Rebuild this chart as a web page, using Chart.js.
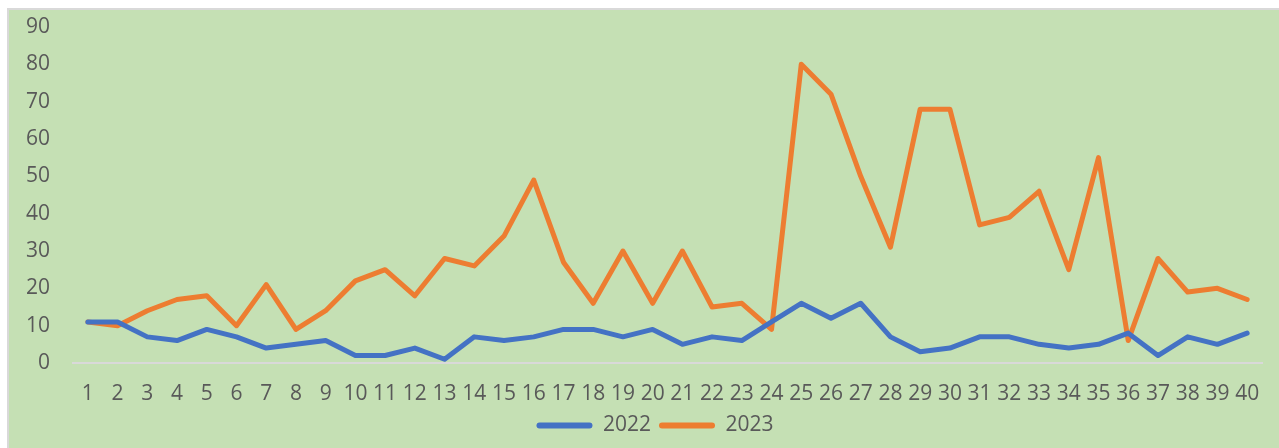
<!DOCTYPE html>
<html>
<head>
<meta charset="utf-8">
<script src="https://cdn.jsdelivr.net/npm/chart.js@4/dist/chart.umd.min.js"></script>
<style>
html,body{margin:0;padding:0;background:#fff;}
canvas{display:block;}
</style>
</head>
<body>
<canvas id="c" width="1279" height="448"></canvas>
<script>
const categories = ['1','2','3','4','5','6','7','8','9','10','11','12','13','14','15','16','17','18','19','20','21','22','23','24','25','26','27','28','29','30','31','32','33','34','35','36','37','38','39','40'];
const values2022 = [11,11,7,6,9,7,4,5,6,2,2,4,1,7,6,7,9,9,7,9,5,7,6,11,16,12,16,7,3,4,7,7,5,4,5,8,2,7,5,8];
const values2023 = [11,10,14,17,18,10,21,9,14,22,25,18,28,26,34,49,27,16,30,16,30,15,16,9,80,72,50,31,68,68,37,39,46,25,55,6,28,19,20,17];
const yTicks = [0,10,20,30,40,50,60,70,80,90];
const seriesNames = ['2022','2023'];

const FONT = '"Open Sans", sans-serif';
const TXT = '#595959';

const bgPlugin = {
  id: 'bg',
  beforeDraw(chart) {
    const ctx = chart.ctx;
    ctx.save();
    ctx.fillStyle = '#ffffff';
    ctx.fillRect(0, 0, chart.width, chart.height);
    ctx.fillStyle = '#d9d9d9';
    ctx.fillRect(7, 8, chart.width - 7, chart.height - 8);
    ctx.fillStyle = '#C5E0B4';
    ctx.fillRect(9, 10, chart.width - 9, chart.height - 10);
    ctx.restore();
  }
};

const legendShift = {
  id: 'legendShift',
  afterLayout(chart) {
    if (chart.legend) {
      chart.legend.left += 24;
      chart.legend.right += 24;
    }
  }
};

new Chart(document.getElementById('c'), {
  type: 'line',
  data: {
    labels: categories,
    datasets: [
      {label: seriesNames[0], data: values2022, borderColor: '#4472C4', backgroundColor: '#4472C4', borderWidth: 5, pointRadius: 0, tension: 0, borderJoinStyle: 'round', borderCapStyle: 'round'},
      {label: seriesNames[1], data: values2023, borderColor: '#ED7D31', backgroundColor: '#ED7D31', borderWidth: 5, pointRadius: 0, tension: 0, borderJoinStyle: 'round', borderCapStyle: 'round'}
    ]
  },
  options: {
    responsive: false,
    animation: false,
    layout: {padding: {left: 0, right: 17, top: 27, bottom: 2}},
    plugins: {
      tooltip: {enabled: false},
      legend: {
        position: 'bottom',
        labels: {
          font: {family: FONT, size: 21},
          color: TXT,
          boxWidth: 56,
          boxHeight: 6,
          padding: 8,
          generateLabels(chart) {
            return chart.data.datasets.map((d, i) => ({
              text: d.label,
              fillStyle: d.borderColor,
              strokeStyle: d.borderColor,
              lineWidth: 0,
              borderRadius: 3,
              fontColor: TXT,
              hidden: false,
              datasetIndex: i
            }));
          }
        }
      }
    },
    scales: {
      x: {
        offset: true,
        grid: {display: false, drawTicks: false},
        border: {display: true, color: '#d9d9d9', width: 2},
        ticks: {font: {family: FONT, size: 21}, color: TXT, padding: 18, maxRotation: 0, autoSkip: false},
        afterFit(scale) { scale.height = 44; }
      },
      y: {
        min: 0, max: 90,
        afterBuildTicks(scale) { scale.ticks = yTicks.map(v => ({value: v})); },
        grid: {display: false, drawTicks: true, tickLength: 23},
        border: {display: false},
        ticks: {font: {family: FONT, size: 21}, color: TXT, padding: 0},
        afterFit(scale) { scale.width = 73; }
      }
    }
  },
  plugins: [bgPlugin, legendShift]
});
</script>
</body>
</html>
